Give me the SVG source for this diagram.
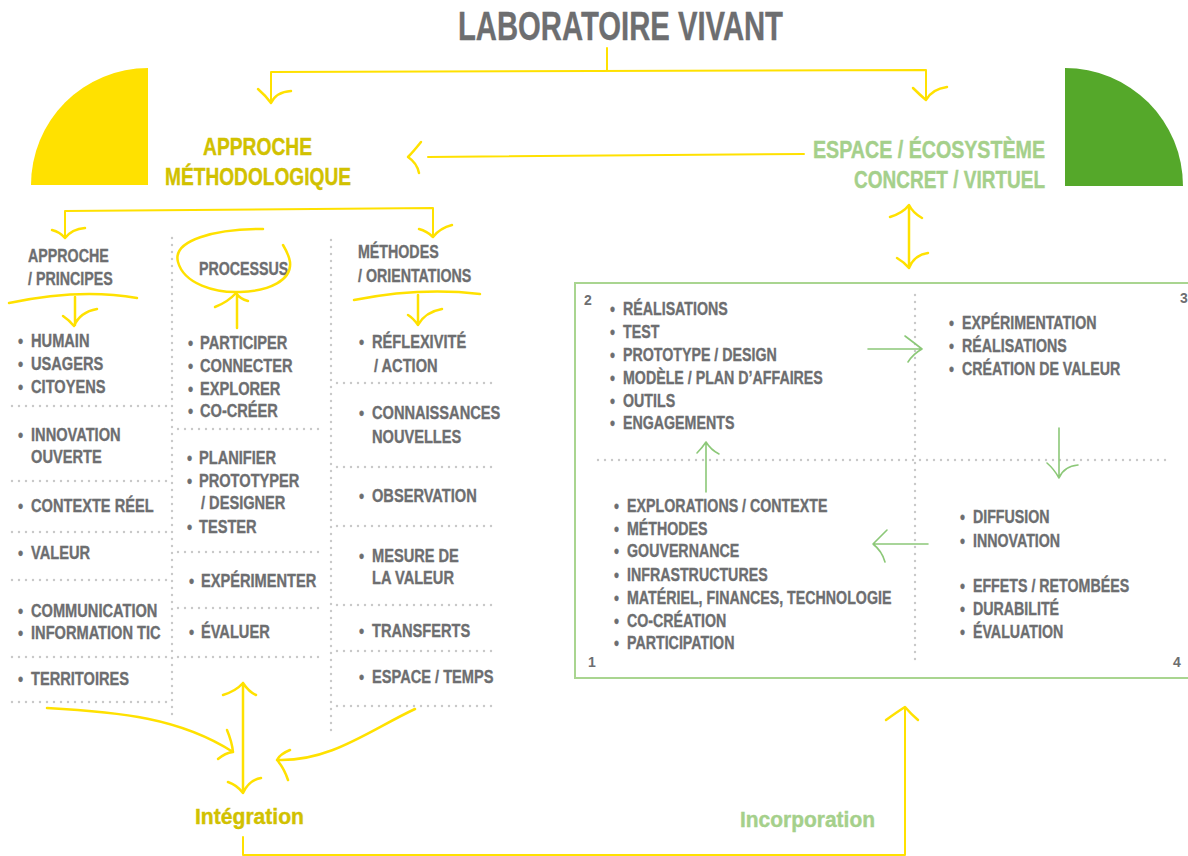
<svg xmlns="http://www.w3.org/2000/svg" width="1188" height="856" viewBox="0 0 1188 856">
<style>
.t{font-family:"Liberation Sans",Arial,sans-serif;font-weight:bold;fill:#6d6e70;stroke:#6d6e70;stroke-width:0.35}
.c{font-size:19px}
.h{font-size:18.5px}
.b{font-size:18px}
.n{font-size:14px;stroke-width:0}
.y{font-family:"Liberation Sans",Arial,sans-serif;font-weight:bold;fill:#d1c100;stroke:#d1c100;stroke-width:0.4}
.g{font-family:"Liberation Sans",Arial,sans-serif;font-weight:bold;fill:#a5d08b;stroke:#a5d08b;stroke-width:0.4}
.yl{fill:none;stroke:#ffe100;stroke-width:2;stroke-linecap:round;stroke-linejoin:round}
.ya{fill:none;stroke:#ffe100;stroke-width:2.5;stroke-linecap:round;stroke-linejoin:round}
.gl{fill:none;stroke:#8cc878;stroke-width:1.6;stroke-linecap:round;stroke-linejoin:round}
.dot{fill:none;stroke:#c9c9c9;stroke-width:2.4;stroke-linecap:round;stroke-dasharray:0 7}
</style>
<rect width="1188" height="856" fill="#ffffff"/>

<g id="title">
<text class="t" x="458" y="40" font-size="41" stroke-width="0.6" textLength="325" lengthAdjust="spacingAndGlyphs">LABORATOIRE VIVANT</text>
</g>

<g id="approche-methodologique">
<path d="M148,68 A117,117 0 0 0 31,185 L148,185 Z" fill="#ffe100"/>
<text class="y" x="203" y="155" font-size="24" textLength="109" lengthAdjust="spacingAndGlyphs">APPROCHE</text>
<text class="y" x="165" y="185" font-size="24" textLength="186" lengthAdjust="spacingAndGlyphs">MÉTHODOLOGIQUE</text>
</g>

<g id="espace-ecosysteme">
<path d="M1065,68 A118,118 0 0 1 1183,186 L1065,186 Z" fill="#55a82a"/>
<text class="g" x="813" y="158" font-size="24" textLength="232" lengthAdjust="spacingAndGlyphs">ESPACE / ÉCOSYSTÈME</text>
<text class="g" x="854" y="188" font-size="24" textLength="191" lengthAdjust="spacingAndGlyphs">CONCRET / VIRTUEL</text>
</g>

<g id="grid-lines">
<path class="dot" d="M172,238 V720 M331,240 V737"/>
<path class="dot" d="M12,406 H167 M12,481 H167 M12,532 H167 M12,580 H167 M12,657 H167 M12,702 H167"/>
<path class="dot" d="M178,429 H322 M178,552 H322 M178,608 H322 M178,657 H322"/>
<path class="dot" d="M337,383 H492 M337,467 H492 M337,526 H492 M337,605 H492 M337,651 H492 M337,706 H492"/>
</g>

<g id="col-approche-principes">
<g transform="scale(0.77,1)">
<text class="t h" x="36.4" y="262">APPROCHE</text>
<text class="t h" x="36.4" y="285">/ PRINCIPES</text>
<text class="t c" y="347"><tspan x="23.4">•</tspan><tspan x="40.3">HUMAIN</tspan></text>
<text class="t c" y="370"><tspan x="23.4">•</tspan><tspan x="40.3">USAGERS</tspan></text>
<text class="t c" y="393"><tspan x="23.4">•</tspan><tspan x="40.3">CITOYENS</tspan></text>
<text class="t c" y="441"><tspan x="23.4">•</tspan><tspan x="40.3">INNOVATION</tspan></text>
<text class="t c" x="40.3" y="463">OUVERTE</text>
<text class="t c" y="512"><tspan x="23.4">•</tspan><tspan x="40.3">CONTEXTE RÉEL</tspan></text>
<text class="t c" y="559"><tspan x="23.4">•</tspan><tspan x="40.3">VALEUR</tspan></text>
<text class="t c" y="617"><tspan x="23.4">•</tspan><tspan x="40.3">COMMUNICATION</tspan></text>
<text class="t c" y="639"><tspan x="23.4">•</tspan><tspan x="40.3">INFORMATION TIC</tspan></text>
<text class="t c" y="685"><tspan x="23.4">•</tspan><tspan x="40.3">TERRITOIRES</tspan></text>
</g>
</g>

<g id="col-processus">
<g transform="scale(0.77,1)">
<text class="t h" x="258.4" y="275">PROCESSUS</text>
<text class="t c" y="349"><tspan x="244.2">•</tspan><tspan x="259.7">PARTICIPER</tspan></text>
<text class="t c" y="372"><tspan x="244.2">•</tspan><tspan x="259.7">CONNECTER</tspan></text>
<text class="t c" y="395"><tspan x="244.2">•</tspan><tspan x="259.7">EXPLORER</tspan></text>
<text class="t c" y="417"><tspan x="244.2">•</tspan><tspan x="259.7">CO-CRÉER</tspan></text>
<text class="t c" y="464"><tspan x="242.9">•</tspan><tspan x="258.4">PLANIFIER</tspan></text>
<text class="t c" y="487"><tspan x="242.9">•</tspan><tspan x="258.4">PROTOTYPER</tspan></text>
<text class="t c" x="261" y="509">/ DESIGNER</text>
<text class="t c" y="533"><tspan x="242.9">•</tspan><tspan x="258.4">TESTER</tspan></text>
<text class="t c" y="587"><tspan x="245.5">•</tspan><tspan x="261">EXPÉRIMENTER</tspan></text>
<text class="t c" y="638"><tspan x="245.5">•</tspan><tspan x="261">ÉVALUER</tspan></text>
</g>
</g>

<g id="col-methodes-orientations">
<g transform="scale(0.77,1)">
<text class="t h" x="464.9" y="258">MÉTHODES</text>
<text class="t h" x="464.9" y="282">/ ORIENTATIONS</text>
<text class="t c" y="348"><tspan x="466.2">•</tspan><tspan x="483.1">RÉFLEXIVITÉ</tspan></text>
<text class="t c" x="485.7" y="372">/ ACTION</text>
<text class="t c" y="419"><tspan x="466.2">•</tspan><tspan x="483.1">CONNAISSANCES</tspan></text>
<text class="t c" x="483.1" y="443">NOUVELLES</text>
<text class="t c" y="502"><tspan x="466.2">•</tspan><tspan x="483.1">OBSERVATION</tspan></text>
<text class="t c" y="562"><tspan x="466.2">•</tspan><tspan x="483.1">MESURE DE</tspan></text>
<text class="t c" x="483.1" y="584">LA VALEUR</text>
<text class="t c" y="637"><tspan x="466.2">•</tspan><tspan x="483.1">TRANSFERTS</tspan></text>
<text class="t c" y="683"><tspan x="466.2">•</tspan><tspan x="483.1">ESPACE / TEMPS</tspan></text>
</g>
</g>

<g id="cycle-box">
<rect x="575" y="283" width="640" height="395" fill="none" stroke="#a9d590" stroke-width="2"/>
<path class="dot" d="M915,295 V662 M598,460 H1171"/>
<text class="t n" x="584" y="305">2</text>
<text class="t n" x="1180" y="303">3</text>
<text class="t n" x="588" y="667">1</text>
<text class="t n" x="1173" y="667">4</text>
</g>

<g id="quadrant-2">
<g transform="scale(0.79,1)">
<text class="t b" y="315"><tspan x="772.2">•</tspan><tspan x="788.6">RÉALISATIONS</tspan></text>
<text class="t b" y="338"><tspan x="772.2">•</tspan><tspan x="788.6">TEST</tspan></text>
<text class="t b" y="361"><tspan x="772.2">•</tspan><tspan x="788.6">PROTOTYPE / DESIGN</tspan></text>
<text class="t b" y="384"><tspan x="772.2">•</tspan><tspan x="788.6">MODÈLE / PLAN D’AFFAIRES</tspan></text>
<text class="t b" y="407"><tspan x="772.2">•</tspan><tspan x="788.6">OUTILS</tspan></text>
<text class="t b" y="429"><tspan x="772.2">•</tspan><tspan x="788.6">ENGAGEMENTS</tspan></text>
</g>
</g>

<g id="quadrant-3">
<g transform="scale(0.79,1)">
<text class="t b" y="329"><tspan x="1201.3">•</tspan><tspan x="1217.7">EXPÉRIMENTATION</tspan></text>
<text class="t b" y="352"><tspan x="1201.3">•</tspan><tspan x="1217.7">RÉALISATIONS</tspan></text>
<text class="t b" y="375"><tspan x="1201.3">•</tspan><tspan x="1217.7">CRÉATION DE VALEUR</tspan></text>
</g>
</g>

<g id="quadrant-1">
<g transform="scale(0.79,1)">
<text class="t b" y="512"><tspan x="777.2">•</tspan><tspan x="793.7">EXPLORATIONS / CONTEXTE</tspan></text>
<text class="t b" y="535"><tspan x="777.2">•</tspan><tspan x="793.7">MÉTHODES</tspan></text>
<text class="t b" y="557"><tspan x="777.2">•</tspan><tspan x="793.7">GOUVERNANCE</tspan></text>
<text class="t b" y="581"><tspan x="777.2">•</tspan><tspan x="793.7">INFRASTRUCTURES</tspan></text>
<text class="t b" y="604"><tspan x="777.2">•</tspan><tspan x="793.7">MATÉRIEL, FINANCES, TECHNOLOGIE</tspan></text>
<text class="t b" y="627"><tspan x="777.2">•</tspan><tspan x="793.7">CO-CRÉATION</tspan></text>
<text class="t b" y="649"><tspan x="777.2">•</tspan><tspan x="793.7">PARTICIPATION</tspan></text>
</g>
</g>

<g id="quadrant-4">
<g transform="scale(0.79,1)">
<text class="t b" y="523"><tspan x="1215.2">•</tspan><tspan x="1231.6">DIFFUSION</tspan></text>
<text class="t b" y="547"><tspan x="1215.2">•</tspan><tspan x="1231.6">INNOVATION</tspan></text>
<text class="t b" y="592"><tspan x="1215.2">•</tspan><tspan x="1231.6">EFFETS / RETOMBÉES</tspan></text>
<text class="t b" y="615"><tspan x="1215.2">•</tspan><tspan x="1231.6">DURABILITÉ</tspan></text>
<text class="t b" y="638"><tspan x="1215.2">•</tspan><tspan x="1231.6">ÉVALUATION</tspan></text>
</g>
</g>

<g id="integration">
<text class="y" x="195" y="824" font-size="22" textLength="109" lengthAdjust="spacingAndGlyphs">Intégration</text>
</g>

<g id="incorporation">
<text class="g" x="740" y="827" font-size="22" textLength="135" lengthAdjust="spacingAndGlyphs">Incorporation</text>
</g>

<g id="connectors">
<path class="yl" d="M607,48 V71 M271,72 L926,70 M271,72 V101 M926,70 V98"/>
<path class="ya" d="M258,89 Q266,96 271,103 Q276,92 291,91"/>
<path class="ya" d="M913,88 Q920,95 926,100 Q932,89 947,87"/>
<path class="yl" d="M804,154 L428,157"/>
<path class="ya" d="M421,142 Q413,152 408,157 Q417,163 419,173"/>
<path class="yl" d="M65,211 L433,208 M65,211 V236 M433,208 V235"/>
<path class="ya" d="M52,230 Q60,232 65,238 Q72,229 85,228"/>
<path class="ya" d="M419,229 Q427,231 433,237 Q440,228 452,225"/>
<path class="ya" d="M9,303 Q80,288 137,298"/>
<path class="ya" d="M75,297 V325 M63,316 Q69,320 74,326 Q80,312 97,309"/>
<path class="ya" d="M263,229 C215,229 172,240 178,262 C184,284 215,293 240,292 C270,291 292,280 290,262 C289,255 286,250 283,245"/>
<path class="ya" d="M237,328 V295 M215,307 Q228,302 236,293 Q240,299 248,301"/>
<path class="ya" d="M354,300 Q420,287 480,294"/>
<path class="ya" d="M418,295 V325 M408,315 Q413,318 418,325 Q425,312 442,309"/>
<path class="ya" d="M909,207 V266 M890,217 Q903,213 909,205 Q913,213 922,218 M897,258 Q904,262 909,268 Q914,255 928,253"/>
<path class="ya" d="M47,708 C120,712 180,718 233,752 M227,730 Q232,742 233,752 Q225,753 218,759"/>
<path class="ya" d="M415,709 C370,730 330,762 277,760 M290,750 Q280,754 277,760 Q284,768 288,780"/>
<path class="ya" d="M243,683 V793 M223,695 Q236,691 243,683 Q249,692 256,695 M228,782 Q237,785 243,793 Q249,780 261,778"/>
<path class="yl" d="M243,837 V855 L905,855 V708"/>
<path class="ya" d="M886,720 Q897,712 905,707 Q911,714 918,720"/>
<path class="gl" d="M868,349 H922 M905,336 Q913,342 922,349 Q913,354 908,362"/>
<path class="gl" d="M1059,428 V478 M1047,463 Q1054,469 1059,478 Q1064,466 1078,465"/>
<path class="gl" d="M928,544 H873 M887,530 Q879,538 873,544 Q882,551 885,562"/>
<path class="gl" d="M706,492 V443 M697,453 Q702,448 706,442 Q711,450 719,454"/>
</g>
</svg>
